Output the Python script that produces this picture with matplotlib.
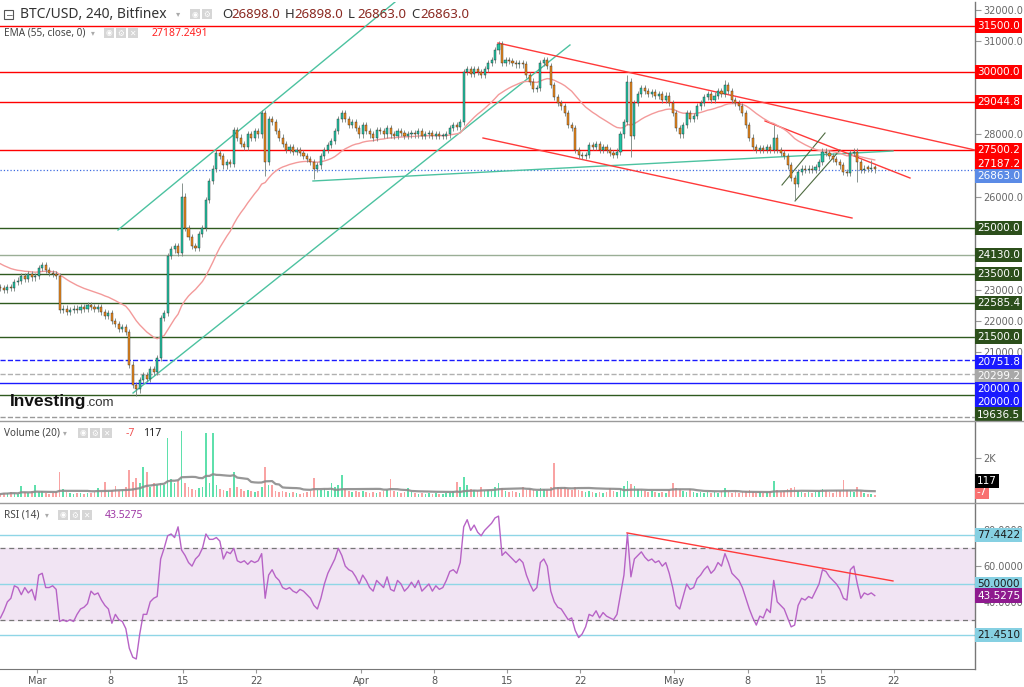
import matplotlib
matplotlib.use("Agg")
import matplotlib.pyplot as plt
from matplotlib.lines import Line2D
from matplotlib.patches import Rectangle
import numpy as np

# ---- data (8h candles, Feb 25 12:00 -> May 20) ----
closes = [
    23050, 23000, 23100, 23050, 23250, 23300, 23450, 23350, 23500, 23400,
    23450, 23700, 23800, 23650, 23550, 23500, 23450, 22350, 22400, 22300,
    22350, 22400, 22350, 22450, 22400, 22500, 22450, 22400, 22450, 22300,
    22150, 22250, 22000, 21900, 21750, 21800, 21650, 20600, 19950, 19800,
    20100, 20250, 20150, 20450, 20350, 20800, 22100, 22250, 24100, 24300,
    24400, 24200, 26000, 25000, 24700, 24400, 24350, 24800, 25000, 25900,
    26500, 26900, 27400, 27300, 27000, 27100, 27050, 28150, 27900, 27700,
    27600, 28000, 27900, 28100, 28000, 28700, 27100, 28500, 28400, 28100,
    27900, 27700, 27500, 27600, 27450, 27500, 27400, 27300, 27200, 27100,
    26900, 27000, 27300, 27500, 27650, 27800, 28100, 28500, 28700, 28500,
    28300, 28400, 28200, 28000, 28300, 28100, 28000, 27900, 28150, 28100,
    28000, 28200, 28000, 27950, 28100, 28050, 27950, 28000, 28050, 28000,
    28100, 27950, 28000, 28050, 27950, 28000, 27950, 27950, 28000, 28200,
    28300, 28250, 28400, 30000, 30100, 29950, 30100, 30000, 29900, 30100,
    30300, 30400, 30700, 30900, 30300, 30400, 30350, 30300, 30250, 30300,
    30250, 29900, 29700, 29450, 29500, 30300, 30400, 30200, 29600, 29200,
    29000, 28900, 28700, 28300, 28200, 27500, 27350, 27300, 27350, 27650,
    27600, 27700, 27500, 27600, 27500, 27400, 27350, 27450, 28000, 28400,
    29700, 27950, 29000, 29300, 29500, 29400, 29300, 29350, 29250, 29300,
    29100, 29250, 29000, 28700, 28200, 28000, 28300, 28700, 28500, 28600,
    28900, 29000, 29200, 29300, 29100, 29250, 29400, 29300, 29600, 29400,
    29100, 29000, 28900, 28700, 28300, 27900, 27600, 27500, 27550, 27500,
    27600, 27500, 27900, 27500, 27400, 27300, 27000, 26600, 26400, 26800,
    26900, 26850, 26900, 26850, 26950, 27100, 27450, 27400, 27300, 27200,
    27100, 27000, 26800, 26750, 27400, 27450, 27100, 26850, 26900, 26880,
    26900, 26863,
]
first_open = 23100

volumes = [
    150, 200, 180, 250, 200, 150, 560, 250, 200, 300,
    600, 250, 300, 200, 150, 200, 250, 1280, 400, 250,
    200, 150, 180, 200, 150, 200, 180, 250, 470, 250,
    750, 300, 350, 550, 300, 350, 500, 1400, 750, 1000,
    700, 1530, 1280, 500, 700, 600, 700, 600, 3000, 900,
    700, 800, 3400, 700, 500, 400, 350, 450, 500, 3300,
    700, 3300, 600, 400, 350, 300, 450, 1280, 500, 400,
    300, 350, 300, 250, 300, 500, 1530, 600, 600, 300,
    250, 300, 250, 200, 250, 200, 150, 200, 250, 300,
    1000, 350, 350, 400, 300, 700, 500, 600, 1120, 400,
    300, 250, 300, 250, 300, 250, 200, 250, 200, 250,
    300, 350, 900, 300, 250, 200, 250, 450, 250, 200,
    150, 200, 150, 200, 150, 200, 150, 150, 200, 200,
    300, 750, 500, 1050, 600, 400, 350, 300, 500, 300,
    350, 300, 500, 700, 450, 300, 250, 300, 250, 200,
    500, 350, 400, 350, 300, 450, 400, 350, 500, 1750,
    500, 450, 500, 400, 350, 500, 350, 300, 250, 300,
    250, 200, 250, 200, 250, 450, 300, 250, 400, 550,
    800, 650, 550, 400, 350, 300, 250, 300, 250, 200,
    250, 200, 350, 700, 450, 400, 300, 250, 400, 250,
    200, 250, 200, 250, 200, 250, 200, 300, 450, 250,
    200, 250, 200, 250, 300, 350, 250, 200, 250, 200,
    250, 300, 800, 350, 250, 300, 400, 450, 500, 300,
    250, 200, 250, 200, 250, 300, 400, 300, 250, 200,
    350, 300, 850, 350, 300, 250, 500, 300, 200, 150,
    150, 117,
]

rsi = [
    31, 35, 40, 42, 49, 48, 44, 48, 45, 47,
    41, 55, 56, 48, 48, 49, 47, 29, 30, 29,
    30, 29, 33, 36, 37, 39, 46, 44, 45, 41,
    38, 36, 28, 33, 30, 29, 25, 14, 9, 8,
    22, 33, 33, 40, 42, 43, 64, 70, 77, 78,
    76, 82, 69, 66, 62, 60, 64, 66, 70, 78,
    75, 75, 76, 74, 64, 68, 67, 70, 63, 62,
    63, 61, 63, 62, 63, 67, 42, 55, 58, 54,
    52, 48, 47, 48, 46, 45, 47, 46, 44, 42,
    38, 36, 42, 50, 56, 60, 64, 70, 66, 60,
    58, 57, 54, 50, 55, 52, 48, 46, 52, 50,
    48, 54, 47, 46, 52, 50, 46, 48, 51, 48,
    52, 46, 48, 50, 46, 49, 47, 48, 52, 57,
    58, 56, 62, 82, 86, 80, 83, 79, 77, 80,
    82, 84, 87, 88, 66, 68, 66, 64, 62, 64,
    62, 55, 50, 46, 48, 62, 64, 60, 46, 40,
    37, 36, 33, 30, 31, 24, 20, 22, 26, 33,
    32, 35, 31, 34, 32, 31, 30, 33, 44, 55,
    78, 54, 64, 66, 68, 65, 63, 64, 62, 63,
    60, 62, 56, 48, 38, 36, 43, 50, 47, 48,
    53, 55, 58, 60, 56, 58, 62, 60, 67, 62,
    56, 54, 52, 48, 42, 36, 31, 27, 32, 31,
    36, 34, 52, 40, 38, 36, 31, 26, 27, 38,
    42, 41, 43, 42, 46, 50, 58, 57, 54, 52,
    50, 47, 42, 41, 58, 60, 50, 42, 45, 44,
    45, 43.5,
]

# notable wick extremes (candle index -> price)
wick_high = {52: 26450, 75: 28800, 143: 31000, 180: 29900, 208: 29750, 222: 28300, 250: 27180}
wick_low = {39: 19600, 76: 26650, 90: 26550, 181: 27280, 228: 25900, 246: 26480}

# horizontal levels: price, colour, style
levels = [
    (31500, "#ff0000", "-"), (30000, "#ff0000", "-"), (29044.8, "#ff0000", "-"),
    (27500.2, "#ff0000", "-"), (26863.0, "#3d6be0", ":"),
    (25000, "#2f5a1f", "-"), (24130, "#9aae96", "-"), (23500, "#2f5a1f", "-"),
    (22585.4, "#2f5a1f", "-"), (21500, "#2f5a1f", "-"),
    (20751.8, "#1a1aff", "--"), (20299.2, "#b0b0b0", "--"),
    (20000, "#1a1aff", "-"), (19636.5, "#2f5a1f", "-"), (18920, "#9a9a9a", "--"),
]

# price scale labels: price, text, background, label nudge (px down)
price_labels = [
    (31500, "31500.0", "#ff0000", 0), (30000, "30000.0", "#ff0000", 0),
    (29044.8, "29044.8", "#ff0000", 0), (27500.2, "27500.2", "#ff0000", 0),
    (27187.2, "27187.2", "#ff0000", 4), (26863.0, "26863.0", "#5b8be6", 6),
    (25000, "25000.0", "#2c4f1b", 0), (24130, "24130.0", "#2c4f1b", 0),
    (23500, "23500.0", "#2c4f1b", 0), (22585.4, "22585.4", "#2c4f1b", 0),
    (21500, "21500.0", "#2c4f1b", 0), (20751.8, "20751.8", "#1a1aff", 2),
    (20299.2, "20299.2", "#a8a8a8", 2), (20000, "20000.0", "#1a1aff", 6),
    (20000, "20000.0", "#1a1aff", 19), (19636.5, "19636.5", "#2c4f1b", 20),
]
# scale values left uncovered by the labels
price_ticks = [21000, 22000, 23000, 26000, 28000, 31000, 32000]

# trend lines as (day, price) end points, day 0 = Mar 1
teal_lines = [((7.75, 24926), (34.26, 32257)),
              ((9.19, 19685), (51.0, 30875)),
              ((26.41, 26502), (81.91, 27466))]
red_lines = [((44.11, 30939), (89.76, 27498)),
             ((42.68, 27884), (77.99, 25312)),
             ((69.67, 28431), (83.54, 26598))]
green_lines = [((71.29, 26373), (75.41, 28045)),
               ((72.54, 25859), (76.84, 27498))]
rsi_line = ((56.46, 78.6), (81.91, 51.7))

tick_days = [0, 7, 14, 21, 31, 38, 45, 52, 61, 68, 75, 82]
tick_labels = ["Mar", "8", "15", "22", "Apr", "8", "15", "22", "May", "8", "15", "22"]

# ---- derived series ----
n = len(closes)
days = -3.5 + np.arange(n) / 3.0
c = np.array(closes, float)
o = np.concatenate([[first_open], c[:-1]])
hi = np.maximum(o, c) + 100
lo = np.minimum(o, c) - 100
for k, v in wick_high.items():
    hi[k] = v
for k, v in wick_low.items():
    lo[k] = v
up = c >= o

ema = []
e = 23900.0
alpha = 2 / 28.5
for v in c:
    e += alpha * (v - e)
    ema.append(e)

vol = np.array(volumes, float)
vol_ma = np.convolve(vol, np.ones(20) / 20, mode="full")[:n]
for k in range(19):
    vol_ma[k] = vol[:k + 1].mean()

# ---- figure ----
W, H = 1024, 687
fig = plt.figure(figsize=(W / 100, H / 100), dpi=100)
fig.patch.set_facecolor("white")


def pane(top, bottom):
    return fig.add_axes([0, 1 - bottom / H, 975 / W, (bottom - top) / H])


ax_p = pane(2, 420)
ax_v = pane(421, 502)
ax_r = pane(503, 669)

for ax in (ax_p, ax_v, ax_r):
    ax.set_xlim(-3.54, 89.76)
    ax.set_facecolor("white")
    for s in ("left", "top", "bottom"):
        ax.spines[s].set_visible(False)
    ax.spines["right"].set_color("#777777")
    ax.spines["right"].set_linewidth(1)
    ax.yaxis.tick_right()
    ax.tick_params(axis="y", direction="out", length=4, color="#999999",
                   labelsize=7, labelcolor="#666666", pad=2)
    ax.set_xticks([])

# price pane
ax_p.set_ylim(18817, 32257)
ax_p.set_yticks(price_ticks)
ax_p.set_yticklabels([f"{t:.1f}" for t in price_ticks])

for price, col, ls in levels:
    ax_p.axhline(price, color=col, lw=1 if ls != ":" else 0.9, ls=ls, zorder=1)

for (x0, y0), (x1, y1) in teal_lines:
    ax_p.plot([x0, x1], [y0, y1], color="#4cc2a0", lw=1, zorder=2)
for (x0, y0), (x1, y1) in red_lines:
    ax_p.plot([x0, x1], [y0, y1], color="#ff3a3a", lw=1, zorder=2)
for (x0, y0), (x1, y1) in green_lines:
    ax_p.plot([x0, x1], [y0, y1], color="#4e6b40", lw=0.8, zorder=2)

ax_p.plot(days, ema, color="#f39a9a", lw=1, zorder=2)

ax_p.vlines(days, lo, hi, color="#75827c", lw=0.6, zorder=3)
body = np.where(np.abs(c - o) < 40, 40, c - o)
ax_p.bar(days, body, bottom=o, width=0.2,
         color=np.where(up, "#21c4a4", "#ef8a1a"),
         edgecolor="#2a2a2a", linewidth=0.3, zorder=4)

ytr = ax_p.get_yaxis_transform()
for price, txt, bg, dy in price_labels:
    ax_p.annotate(txt, xy=(1.002, price), xycoords=ytr, xytext=(0, -dy),
                  textcoords="offset pixels", ha="left", va="center",
                  fontsize=7.5, color="white", annotation_clip=False, zorder=10,
                  bbox=dict(boxstyle="square,pad=0.2", fc=bg, ec="none"))

ax_p.text(10 / 975, 0.033, "Investing", transform=ax_p.transAxes, fontsize=12.5,
          family="Liberation Sans", fontweight="bold", color="#111111",
          ha="left", va="baseline", zorder=6)
ax_p.text(86 / 975, 0.033, ".com", transform=ax_p.transAxes, fontsize=9.5,
          family="Liberation Sans", color="#333333", ha="left", va="baseline", zorder=6)

# volume pane
ax_v.set_ylim(-256, 3897)
ax_v.set_yticks([2000])
ax_v.set_yticklabels(["2K"])
ax_v.bar(days, vol, width=0.16, color=np.where(up, "#5fe0ac", "#f9a3a3"), zorder=2)
ax_v.plot(days, vol_ma, color="#8c8c8c", lw=1.6, alpha=0.9, zorder=3)
vtr = ax_v.get_yaxis_transform()
for txt, bg, dy in [("-7", "#f87070", -5.5), ("117", "#000000", -16)]:
    ax_v.annotate(txt, xy=(1.002, 0), xycoords=vtr, xytext=(0, -dy),
                  textcoords="offset pixels", ha="left", va="center",
                  fontsize=7.5, color="white", annotation_clip=False, zorder=10,
                  bbox=dict(boxstyle="square,pad=0.2", fc=bg, ec="none"))

# rsi pane
ax_r.set_ylim(2.4, 95.35)
ax_r.set_yticks([40, 60, 80])
ax_r.set_yticklabels(["40.0000", "60.0000", "80.0000"])
ax_r.axhspan(30, 70, color="#f1e4f3", zorder=0)
ax_r.axhline(70, color="#777777", lw=0.9, ls=(0, (4, 3)), zorder=1)
ax_r.axhline(30, color="#777777", lw=0.9, ls=(0, (4, 3)), zorder=1)
for lv in (77.4422, 50.0, 21.451):
    ax_r.axhline(lv, color="#8fd6e6", lw=1, zorder=1)
ax_r.plot(days, rsi, color="#b763c6", lw=1, zorder=3)
(x0, y0), (x1, y1) = rsi_line
ax_r.plot([x0, x1], [y0, y1], color="#ff3a3a", lw=1, zorder=4)
rtr = ax_r.get_yaxis_transform()
for val, txt, bg, fg in [(77.4422, "77.4422", "#86d0e2", "#1a1a1a"),
                         (50.0, "50.0000", "#86d0e2", "#1a1a1a"),
                         (43.5275, "43.5275", "#8e1a8e", "white"),
                         (21.451, "21.4510", "#86d0e2", "#1a1a1a")]:
    ax_r.annotate(txt, xy=(1.002, val), xycoords=rtr, ha="left", va="center",
                  fontsize=7.5, color=fg, annotation_clip=False, zorder=10,
                  bbox=dict(boxstyle="square,pad=0.2", fc=bg, ec="none"))

ax_r.spines["bottom"].set_visible(True)
ax_r.spines["bottom"].set_color("#777777")
ax_r.set_xticks(tick_days)
ax_r.set_xticklabels(tick_labels)
ax_r.tick_params(axis="x", direction="out", length=3, color="#999999",
                 labelsize=7, labelcolor="#555555", pad=2)

# pane separators across the full width
for ypx in (420.5, 502.5):
    fig.add_artist(Line2D([0, 1], [1 - ypx / H] * 2, color="#9a9a9a", lw=1))


# ---- legend texts ----
def ftxt(x, y, s, size=7, color="#444444", family="Noto Sans", **kw):
    fig.text(x / W, 1 - y / H, s, va="center", ha="left", fontsize=size,
             color=color, family=family, **kw)


def icons(x, y, glyphs=("◉", "⚙", "✕")):
    for k, g in enumerate(glyphs):
        fig.add_artist(Rectangle(((x + 12 * k) / W, 1 - (y + 5) / H), 10 / W, 10 / H,
                                 transform=fig.transFigure, fc="#d6d6d6", ec="none"))
        ftxt(x + 12 * k + 1.5, y, g, size=5.5, color="white", family="DejaVu Sans")


fig.add_artist(Rectangle((4 / W, 1 - 19 / H), 9 / W, 9 / H, transform=fig.transFigure,
                         fc="white", ec="#555555", lw=0.8))
ftxt(5.5, 14.3, "−", size=6.5, color="#555555", family="DejaVu Sans")
ftxt(20, 14, "BTC/USD, 240, Bitfinex", size=10, color="#333333")
ftxt(176, 14, "▾", size=6, color="#aaaaaa", family="DejaVu Sans")
icons(190, 14, ("◉", "⚙"))
hx = 222
for letter, val in [("O", "26898.0"), ("H", "26898.0"), ("L", "26863.0"), ("C", "26863.0")]:
    ftxt(hx, 14, letter, size=9.5, color="#333333")
    ftxt(hx + 9, 14, val, size=9.5, color="#8b2a22")
    hx += 63

ftxt(4, 33, "EMA (55, close, 0)", size=7.2)
ftxt(91, 33, "▾", size=5.5, color="#aaaaaa", family="DejaVu Sans")
icons(104, 33)
ftxt(152, 33, "27187.2491", size=7.5, color="#ff2222")

ftxt(4, 433, "Volume (20)", size=7.2)
ftxt(63, 433, "▾", size=5.5, color="#aaaaaa", family="DejaVu Sans")
icons(78, 433)
ftxt(126, 433, "-7", size=7.5, color="#f05050")
ftxt(143, 433, "117", size=7.5, color="#222222")

ftxt(4, 515, "RSI (14)", size=7.2)
ftxt(45, 515, "▾", size=5.5, color="#aaaaaa", family="DejaVu Sans")
icons(58, 515)
ftxt(105, 515, "43.5275", size=7.5, color="#a03aa6")

fig.savefig("out.png", dpi=100)
